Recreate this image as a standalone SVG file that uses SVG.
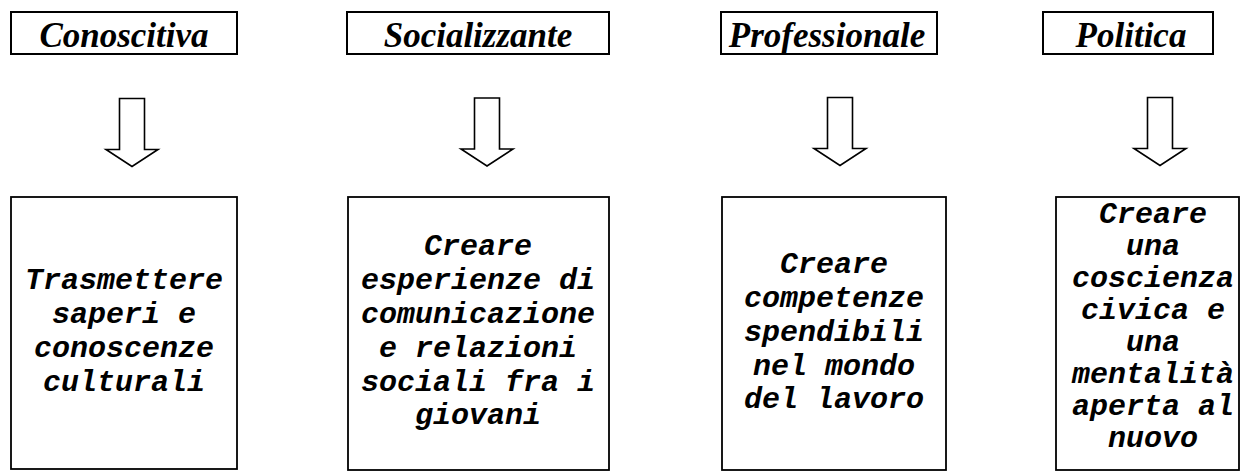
<svg xmlns="http://www.w3.org/2000/svg" width="1243" height="472" viewBox="0 0 1243 472">
<style>
.hbox{fill:#fff;stroke:#000;stroke-width:2}
.bbox{fill:#fff;stroke:#000;stroke-width:1.8}
.htxt{font-family:"Liberation Serif","Times New Roman",serif;font-weight:bold;font-style:italic;font-size:35px;text-anchor:middle;fill:#000}
.btxt{font-family:"Liberation Mono","Courier New",monospace;font-weight:bold;font-style:italic;font-size:30px;text-anchor:middle;fill:#000}
.arr{fill:#fff;stroke:#000;stroke-width:1.6;stroke-linejoin:miter}
</style>
<defs>
<path id="arrow" d="M-12.5,0 L12.5,0 L12.5,51 L26,51 L0,68 L-26,51 L-12.5,51 Z"/>
</defs>
<rect width="1243" height="472" fill="#fff"/>
<g id="h1"><rect class="hbox" x="11" y="12" width="226" height="42"/><text class="htxt" x="124" y="46.5">Conoscitiva</text></g>
<g id="h2"><rect class="hbox" x="347" y="12" width="262" height="42"/><text class="htxt" x="478" y="46.5">Socializzante</text></g>
<g id="h3"><rect class="hbox" x="721" y="12" width="216" height="42"/><text class="htxt" x="827" y="46.5">Professionale</text></g>
<g id="h4"><rect class="hbox" x="1043" y="12" width="170" height="42"/><text class="htxt" x="1131" y="46.5">Politica</text></g>
<g id="connectors">
<use href="#arrow" class="arr" x="132" y="98.5"/>
<use href="#arrow" class="arr" x="487" y="98"/>
<use href="#arrow" class="arr" x="840" y="97.5"/>
<use href="#arrow" class="arr" x="1160" y="97.5"/>
</g>
<g id="b1"><rect class="bbox" x="11" y="197" width="226" height="272"/>
<text class="btxt" x="124"><tspan x="124" y="289">Trasmettere</tspan><tspan x="124" y="323">saperi e</tspan><tspan x="124" y="357">conoscenze</tspan><tspan x="124" y="391">culturali</tspan></text></g>
<g id="b2"><rect class="bbox" x="348" y="197" width="261" height="273"/>
<text class="btxt" x="478"><tspan x="478" y="255">Creare</tspan><tspan x="478" y="289">esperienze di</tspan><tspan x="478" y="323">comunicazione</tspan><tspan x="478" y="357">e relazioni</tspan><tspan x="478" y="391">sociali fra i</tspan><tspan x="478" y="424">giovani</tspan></text></g>
<g id="b3"><rect class="bbox" x="722" y="197" width="224" height="273"/>
<text class="btxt" x="834"><tspan x="834" y="273">Creare</tspan><tspan x="834" y="307">competenze</tspan><tspan x="834" y="341">spendibili</tspan><tspan x="834" y="375">nel mondo</tspan><tspan x="834" y="408">del lavoro</tspan></text></g>
<g id="b4"><rect class="bbox" x="1056" y="197" width="183" height="273"/>
<text class="btxt" x="1153"><tspan x="1153" y="223">Creare</tspan><tspan x="1153" y="255">una</tspan><tspan x="1153" y="287">coscienza</tspan><tspan x="1153" y="319">civica e</tspan><tspan x="1153" y="351">una</tspan><tspan x="1153" y="383">mentalità</tspan><tspan x="1153" y="415">aperta al</tspan><tspan x="1153" y="447">nuovo</tspan></text></g>
</svg>
